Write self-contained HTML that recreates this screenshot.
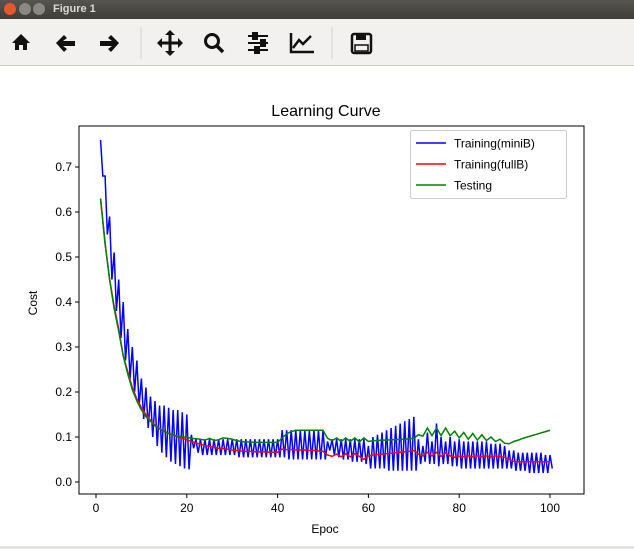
<!DOCTYPE html>
<html><head><meta charset="utf-8"><style>
body{margin:0;width:634px;height:549px;overflow:hidden;background:#fff;font-family:"Liberation Sans","DejaVu Sans",sans-serif}
#titlebar{position:absolute;left:0;top:0;width:634px;height:19px;background:linear-gradient(#57554f,#3e3d39)}
#toolbar{position:absolute;left:0;top:19px;width:634px;height:46px;background:#f2f1f0;border-bottom:1px solid #cfccc8}
.tb{position:absolute;top:10px;font-size:22px;color:#111;line-height:26px}
</style></head><body>
<div id="titlebar">
<div style="position:absolute;left:4px;top:3px;width:12px;height:12px;border-radius:6px;background:#e8572b"></div>
<div style="position:absolute;left:19px;top:3px;width:12px;height:12px;border-radius:6px;background:#8a8882"></div>
<div style="position:absolute;left:33px;top:3px;width:12px;height:12px;border-radius:6px;background:#8a8882"></div>
<div style="position:absolute;left:53px;top:3px;font-size:11px;font-weight:bold;color:#dcdad5">Figure 1</div>
</div>
<div id="toolbar">
<svg width="634" height="46" style="position:absolute;left:0;top:0">
<g><path d="M12 24 L21 15 L30 24 L27 24 L27 31 L23 31 L23 26 L19 26 L19 31 L15 31 L15 24Z" fill="#111"/></g>
<g><path d="M56 24 L64 16 L67 19 L63 22 L75 22 L75 27 L63 27 L67 30 L64 33Z" fill="#111"/></g>
<g><path d="M119 24 L111 16 L108 19 L112 22 L100 22 L100 27 L112 27 L108 30 L111 33Z" fill="#111"/></g>
<line x1="141" y1="8" x2="141" y2="40" stroke="#d6d3cf"/>
<g stroke="#111" stroke-width="3" fill="#111"><line x1="159" y1="24" x2="181" y2="24"/><line x1="170" y1="13" x2="170" y2="35"/><path d="M157 24 L162 19 L162 29Z M183 24 L178 19 L178 29Z M170 11 L165 16 L175 16Z M170 37 L165 32 L175 32Z" stroke="none"/></g>
<g><circle cx="212" cy="22" r="6.5" fill="none" stroke="#111" stroke-width="3"/><line x1="217" y1="27" x2="223" y2="33" stroke="#111" stroke-width="3.5"/></g>
<g stroke="#111" stroke-width="2"><line x1="248" y1="17" x2="268" y2="17"/><line x1="248" y1="24" x2="268" y2="24"/><line x1="248" y1="31" x2="268" y2="31"/><rect x="253" y="14" width="4" height="6" fill="#111"/><rect x="261" y="21" width="4" height="6" fill="#111"/><rect x="255" y="28" width="4" height="6" fill="#111"/></g>
<g fill="none" stroke="#111" stroke-width="2.5"><path d="M291 14 L291 33 L314 33"/><path d="M293 29 L299 21 L303 25 L311 17"/></g>
<line x1="332" y1="8" x2="332" y2="40" stroke="#d6d3cf"/>
<g><rect x="352" y="15" width="19" height="19" rx="2" fill="none" stroke="#111" stroke-width="2.5"/><rect x="356" y="15" width="10" height="6" fill="#111"/><rect x="355" y="26" width="13" height="6" fill="none" stroke="#111" stroke-width="1.5"/></g>
</svg>
</div>
<svg id="chart" width="634" height="549" style="position:absolute;left:0;top:0;pointer-events:none" font-family="Liberation Sans, DejaVu Sans, sans-serif"></svg>
<div style="position:absolute;left:0;top:546px;width:634px;height:3px;background:#e4e2df"></div>
<script>
const xTicks=[0,20,40,60,80,100];
const yTicks=[0.0,0.1,0.2,0.3,0.4,0.5,0.6,0.7];
const yTickLabels=["0.0","0.1","0.2","0.3","0.4","0.5","0.6","0.7"];
const epochs=[];for(let i=1;i<=100;i++)epochs.push(i);
const fullB=[.63,.53,.45,.39,.34,.28,.245,.21,.185,.165,
.15,.137,.127,.119,.113,.108,.104,.100,.097,.094,
.090,.087,.084,.081,.079,.077,.075,.074,.073,.071,
.070,.069,.068,.068,.067,.067,.067,.066,.066,.066,
.073,.072,.072,.071,.071,.071,.070,.070,.069,.068,
.060,.057,.062,.056,.063,.056,.063,.057,.050,.058,
.060,.061,.062,.063,.064,.065,.066,.067,.068,.070,
.062,.058,.066,.058,.066,.057,.065,.058,.055,.057,
.056,.058,.056,.058,.056,.058,.056,.058,.056,.055,
.050,.046,.045,.045,.045,.045,.045,.045,.045,.045];
const testing=[.63,.53,.45,.385,.335,.28,.24,.205,.18,.16,
.145,.135,.125,.118,.112,.108,.105,.102,.100,.100,
.097,.096,.095,.093,.097,.092,.094,.098,.097,.095,
.092,.090,.089,.089,.088,.088,.088,.088,.088,.088,
.098,.107,.112,.115,.115,.115,.115,.115,.115,.115,
.097,.092,.098,.090,.098,.090,.098,.089,.098,.090,
.092,.092,.093,.093,.094,.094,.095,.095,.096,.097,
.105,.102,.120,.103,.120,.103,.120,.103,.113,.098,
.110,.095,.108,.093,.105,.092,.100,.090,.095,.086,
.085,.090,.093,.097,.100,.103,.106,.109,.112,.115];
const miniHigh=[.76,.68,.59,.51,.45,.40,.34,.30,.27,.23,
.21,.19,.18,.17,.17,.165,.16,.16,.155,.15,
.105,.095,.095,.095,.095,.095,.095,.095,.095,.095,
.095,.095,.095,.095,.095,.095,.095,.095,.095,.095,
.115,.115,.115,.115,.115,.115,.115,.115,.115,.115,
.09,.095,.095,.095,.095,.095,.095,.095,.095,.08,
.10,.105,.11,.115,.12,.125,.13,.135,.14,.145,
.095,.08,.11,.09,.13,.10,.09,.10,.09,.095,
.09,.09,.09,.09,.09,.09,.085,.085,.085,.08,
.07,.07,.065,.065,.065,.065,.065,.065,.06,.06];
const miniLow=[.68,.55,.45,.38,.32,.27,.23,.20,.17,.14,
.12,.10,.08,.065,.055,.045,.04,.035,.03,.028,
.075,.065,.06,.06,.06,.06,.06,.06,.06,.06,
.055,.055,.055,.055,.055,.055,.055,.055,.055,.055,
.055,.05,.05,.05,.05,.05,.05,.05,.05,.05,
.07,.06,.055,.05,.05,.045,.045,.045,.04,.03,
.03,.03,.03,.025,.025,.025,.025,.025,.025,.025,
.04,.045,.04,.04,.035,.04,.04,.035,.035,.03,
.03,.03,.03,.03,.03,.03,.03,.03,.03,.03,
.03,.025,.025,.025,.02,.02,.02,.02,.02,.03];

const NS='http://www.w3.org/2000/svg';
const svg=document.getElementById('chart');
const X0=79,X1=584,Y0=126,Y1=494;
function xs(v){return 96+v*4.54;}
function ys(v){return 482-v*450;}
function mk(tag,attrs,parent){const e=document.createElementNS(NS,tag);for(const k in attrs)e.setAttribute(k,attrs[k]);(parent||svg).appendChild(e);return e;}

const title=mk('text',{x:326,y:116,'text-anchor':'middle','font-size':16,fill:'#000'});
title.textContent='Learning Curve';



xTicks.forEach(t=>{
  const g=mk('g',{});
  
  
  mk('line',{x1:xs(t),x2:xs(t),y1:Y1,y2:Y1+4,stroke:'#000'},g);
  const tx=mk('text',{x:xs(t),y:Y1+18,'text-anchor':'middle','font-size':12},g);tx.textContent=t;
});
yTicks.forEach((t,i)=>{
  const g=mk('g',{});
  
  
  mk('line',{x1:X0-4,x2:X0,y1:ys(t),y2:ys(t),stroke:'#000'},g);
  const tx=mk('text',{x:X0-7,y:ys(t)+4,'text-anchor':'end','font-size':12},g);tx.textContent=yTickLabels[i];
});
const xl=mk('text',{x:325,y:533,'text-anchor':'middle','font-size':12});xl.textContent='Epoc';


const yl=mk('text',{x:37,y:303,'text-anchor':'middle','font-size':12,transform:'rotate(-90 37 303)'});yl.textContent='Cost';



const clip=mk('clipPath',{id:'cp'});mk('rect',{x:X0,y:Y0,width:X1-X0,height:Y1-Y0},clip);

let bp=[];epochs.forEach((e,i)=>{bp.push(xs(e)+','+ys(miniHigh[i]));bp.push(xs(e+0.5)+','+ys(miniLow[i]));});
const lb=mk('polyline',{points:bp.join(' '),fill:'none',stroke:'#0000ff','stroke-width':1.5,'clip-path':'url(#cp)'});


const lr=mk('polyline',{points:epochs.map((e,i)=>xs(e)+','+ys(fullB[i])).join(' '),fill:'none',stroke:'#ff0000','stroke-width':1.5});


const lg=mk('polyline',{points:epochs.map((e,i)=>xs(e)+','+ys(testing[i])).join(' '),fill:'none',stroke:'#008000','stroke-width':1.5});



const frame=mk('rect',{x:X0,y:Y0,width:X1-X0,height:Y1-Y0,fill:'none',stroke:'#000','stroke-width':1});



const leg=mk('g',{});


mk('rect',{x:410.5,y:130.5,width:156,height:68,rx:2,fill:'#fff',stroke:'#ccc'},leg);
const names=['Training(miniB)','Training(fullB)','Testing'];
const cols=['#0000ff','#ff0000','#008000'];
names.forEach((n,i)=>{
  const g=mk('g',{},leg);
  
  
  const y=143+i*21;
  mk('line',{x1:416,x2:446,y1:y,y2:y,stroke:cols[i],'stroke-width':1.5},g);
  const t=mk('text',{x:454,y:y+4.5,'font-size':12},g);t.textContent=n;
});
</script>
</body></html>
